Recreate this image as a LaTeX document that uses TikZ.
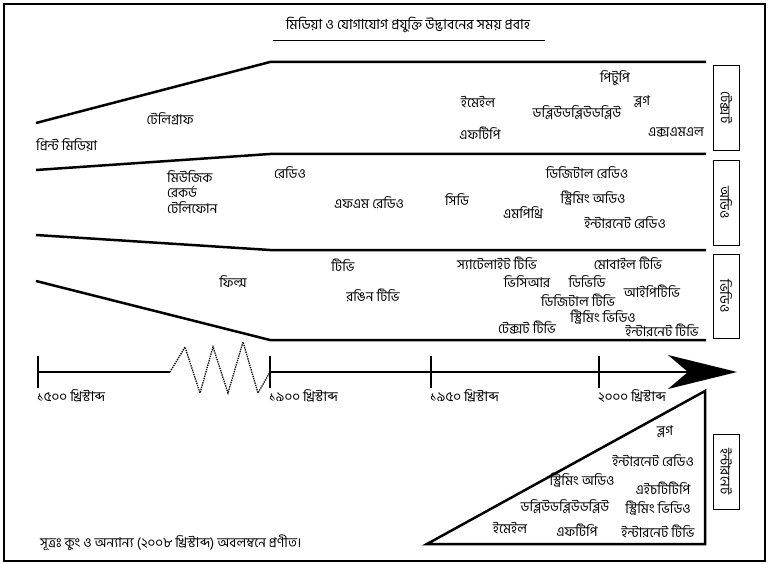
\documentclass[tikz,border=0pt]{standalone}
\usepackage{fontspec}
\newfontfamily\bnfont[Script=Bengali]{Hind Siliguri}
\tikzstyle{item}=[font=\bnfont\fontsize{13.5}{15}\selectfont,inner sep=0pt]
\tikzstyle{band}=[line width=2.5pt]
\tikzstyle{axis}=[line width=2pt]
\tikzstyle{mediabox}=[draw,line width=0.8pt,minimum height=26pt,inner sep=0pt,rotate=-90,font=\bnfont\fontsize{13.5}{15}\selectfont]

\begin{document}
\begin{tikzpicture}[x=1pt,y=-1pt]
\useasboundingbox (0,0) rectangle (768,564);
% frame
\draw[line width=2.5pt] (4,4) rectangle (765,561);
% title
\node[item, font=\bnfont\fontsize{14}{16}\selectfont] at (408, 25) (title) {মিডিয়া ও যোগাযোগ প্রযুক্তি উদ্ভাবনের সময় প্রবাহ};
\draw[line width=0.8pt] (273, 40) -- (545, 40);

% bands
\draw[band] (36, 123) -- (270, 62) -- (706, 62);
\draw[band] (36, 170) -- (270, 154) -- (706, 154);
\draw[band] (36, 235) -- (270, 250) -- (706, 250);
\draw[band] (36, 281) -- (270, 340) -- (706, 340);

% text
\node[item, anchor = west] at (36, 145) (print) {প্রিন্ট মিডিয়া};
\node[item] at (170, 119) (telegraph) {টেলিগ্রাফ};
\node[item] at (478, 102) (email) {ইমেইল};
\node[item] at (615, 78) (ptp) {পিটুপি};
\node[item] at (642, 102) (blog) {ব্লগ};
\node[item] at (577, 113) (www) {ডব্লিউডব্লিউডব্লিউ};
\node[item] at (480, 133) (ftp) {এফটিপি};
\node[item] at (676, 132) (xml) {এক্সএমএল};

% audio
\node[item, anchor = west] at (167, 177) (music) {মিউজিক};
\node[item, anchor = west] at (167, 192) (record) {রেকর্ড};
\node[item, anchor = west] at (167, 208) (phone) {টেলিফোন};
\node[item] at (290, 173) (radio) {রেডিও};
\node[item] at (369, 203) (fm) {এফএম রেডিও};
\node[item] at (457, 200) (cd) {সিডি};
\node[item] at (523, 213) (mp3) {এমপিথ্রি};
\node[item] at (587, 173) (dradio) {ডিজিটাল রেডিও};
\node[item] at (593, 198) (saudio) {স্ট্রিমিং অডিও};
\node[item] at (625, 223) (iradio) {ইন্টারনেট রেডিও};

% video
\node[item] at (233, 282) (film) {ফিল্ম};
\node[item] at (343, 265) (tv) {টিভি};
\node[item] at (373, 295) (ctv) {রঙিন টিভি};
\node[item] at (497, 263) (sattv) {স্যাটেলাইট টিভি};
\node[item] at (628, 263) (mobtv) {মোবাইল টিভি};
\node[item] at (527, 282) (vcr) {ভিসিআর};
\node[item] at (587, 282) (dvd) {ডিভিডি};
\node[item] at (652, 291) (iptv) {আইপিটিভি};
\node[item] at (578, 300) (dtv) {ডিজিটাল টিভি};
\node[item] at (603, 317) (svideo) {স্ট্রিমিং ভিডিও};
\node[item] at (527, 328) (ttv) {টেক্সট টিভি};
\node[item] at (662, 330) (itv) {ইন্টারনেট টিভি};

% side boxes
\node[mediabox, minimum width=85pt] at (726, 107.5) (textbox) {টেক্সট};
\node[mediabox, minimum width=85pt] at (726, 202.5) (audiobox) {অডিও};
\node[mediabox, minimum width=84pt] at (726, 296) (videobox) {ভিডিও};
\node[mediabox, minimum width=75pt] at (726, 471.5) (netbox) {ইন্টারনেট};

% timeline
\coordinate (t1500) at (38, 372);
\coordinate (t1900) at (270, 372);
\coordinate (t1950) at (431, 372);
\coordinate (t2000) at (599, 372);
\coordinate (tip) at (688, 372);
\draw[axis] (t1500) -- (170, 372);
\draw[line width=1.3pt, densely dotted] (170, 372) -- (185, 347) -- (200, 393) -- (213, 347)
  -- (228, 393) -- (243, 342) -- (258, 393) -- (t1900);
\draw[axis] (t1900) -- (tip);
\fill (668, 355) -- (737, 372) -- (668, 389) -- (tip) -- cycle;
\foreach \t in {t1500, t1900, t1950, t2000}
  \draw[axis] (\t) ++(0, -16) -- ++(0, 32);
\node[item, anchor = west] at (37, 396) (y1500) {১৫০০ খ্রিস্টাব্দ};
\node[item, anchor = west] at (269, 396) (y1900) {১৯০০ খ্রিস্টাব্দ};
\node[item, anchor = west] at (430, 396) (y1950) {১৯৫০ খ্রিস্টাব্দ};
\node[item, anchor = west] at (598, 396) (y2000) {২০০০ খ্রিস্টাব্দ};

% internet
\draw[band, line join=miter] (427, 544) -- (705, 544) -- (705, 391) -- cycle;
\node[item] at (665, 432) (nblog) {ব্লগ};
\node[item] at (653, 461) (nradio) {ইন্টারনেট রেডিও};
\node[item] at (582, 480) (naudio) {স্ট্রিমিং অডিও};
\node[item] at (663, 488) (http) {এইচটিটিপি};
\node[item] at (565, 507) (nwww) {ডব্লিউডব্লিউডব্লিউ};
\node[item] at (658, 508) (nvideo) {স্ট্রিমিং ভিডিও};
\node[item] at (510, 528) (nemail) {ইমেইল};
\node[item] at (577, 530) (nftp) {এফটিপি};
\node[item] at (658, 531) (ntv) {ইন্টারনেট টিভি};

% source
\node[item, anchor = west] at (40, 543) (source) {সূত্রঃ কুং ও অন্যান্য (২০০৮ খ্রিস্টাব্দ) অবলম্বনে প্রণীত।};
\end{tikzpicture}
\end{document}
